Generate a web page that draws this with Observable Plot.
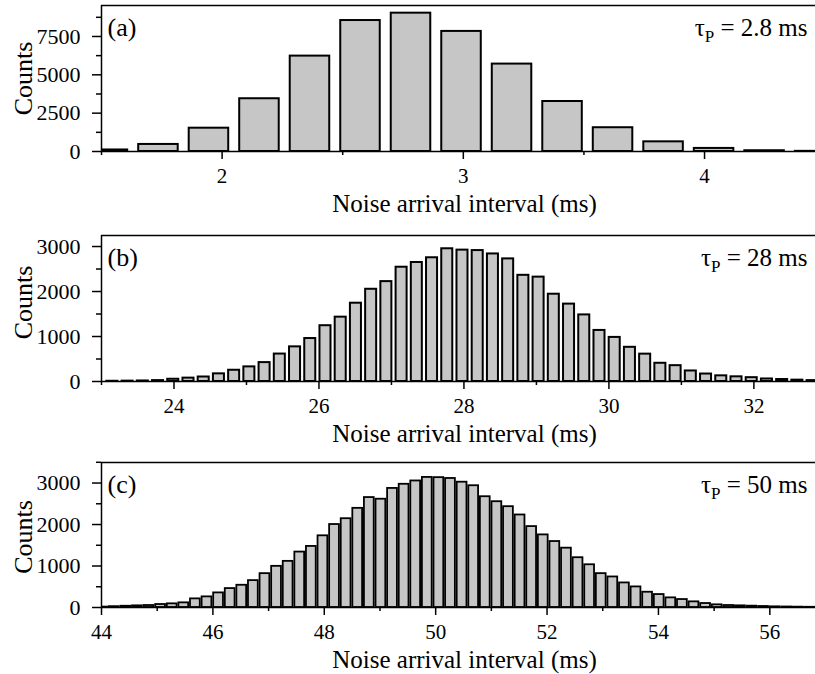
<!DOCTYPE html>
<html>
<head>
<meta charset="utf-8">
<script src="https://cdn.jsdelivr.net/npm/d3@7"></script>
<script src="https://cdn.jsdelivr.net/npm/@observablehq/plot@0.6"></script>
<style>
  html, body { margin: 0; padding: 0; background: #fff; }
  #chart { width: 815px; height: 674px; overflow: hidden; }
  #chart svg { display: block; }
  #chart svg text { font-family: 'Liberation Serif', 'Times New Roman', Times, serif; }
</style>
</head>
<body>
<div id="chart"></div>
<script>
// Histograms of noise arrival intervals for three pulse periods.

// (a) tau_P = 2.8 ms
const countsA = [100, 460, 1520, 3440, 6220, 8540, 9020, 7830, 5700, 3260, 1550, 630, 200, 50, 10];
const binStartA = 1.422;   // left edge of the first bin (ms)
const binWidthA = 0.2094;  // bin width (ms)
const xTicksA = [2, 3, 4];
const xMinorA = [1.5, 2.5, 3.5];
const yTicksA = [0, 2500, 5000, 7500];
const yMinorA = [1250, 3750, 6250, 8750];

// (b) tau_P = 28 ms
const countsB = [5, 8, 12, 20, 50, 75, 100, 170, 250, 325, 420, 610, 770, 955, 1240, 1430,
  1740, 2050, 2220, 2540, 2645, 2750, 2950, 2920, 2910, 2835, 2725, 2360, 2320, 1940, 1720,
  1480, 1135, 980, 760, 608, 405, 352, 234, 166, 126, 104, 85, 56, 44, 30, 20];
const binStartB = 23.045;
const binWidthB = 0.21;
const xTicksB = [24, 26, 28, 30, 32];
const xMinorB = [23, 25, 27, 29, 31];
const yTicksB = [0, 1000, 2000, 3000];
const yMinorB = [500, 1500, 2500];

// (c) tau_P = 50 ms
const countsC = [10, 20, 30, 40, 48, 72, 88, 112, 208, 256, 352, 456, 536, 648, 816, 992,
  1112, 1336, 1472, 1728, 2000, 2140, 2390, 2650, 2610, 2870, 2970, 3050, 3135, 3130, 3110,
  3020, 2935, 2670, 2550, 2430, 2230, 1950, 1750, 1590, 1430, 1200, 1030, 816, 736, 592,
  496, 368, 312, 232, 192, 136, 96, 64, 48, 40, 32, 24, 16, 12, 8, 5];
const binStartC = 43.916;
const binWidthC = 0.2082;
const xTicksC = [44, 46, 48, 50, 52, 54, 56];
const xMinorC = [45, 47, 49, 51, 53, 55];
const yTicksC = [0, 1000, 2000, 3000];
const yMinorC = [500, 1500, 2500, 3500];

const panelLabels = ["(a)", "(b)", "(c)"];
const tauLabels = ["τ|P| = 2.8 ms", "τ|P| = 28 ms", "τ|P| = 50 ms"];
const xTitle = "Noise arrival interval (ms)";
const yTitle = "Counts";

const SERIF = "'Liberation Serif', 'Times New Roman', Times, serif";
const INK = "#000";

function panel(cfg) {
  const rows = cfg.counts.map((c, i) => ({
    x1: cfg.start + i * cfg.width,
    x2: cfg.start + (i + 1) * cfg.width,
    count: c
  }));
  const [x0] = cfg.xDomain;
  const svg = Plot.plot({
    width: 815,
    height: cfg.height,
    marginLeft: 101,
    marginRight: 0,
    marginTop: cfg.marginTop,
    marginBottom: cfg.marginBottom,
    style: {fontFamily: SERIF, fontSize: "22px", color: INK, background: "#fff", overflow: "visible"},
    x: {domain: cfg.xDomain},
    y: {domain: [0, cfg.yMax]},
    marks: [
      Plot.rectY(rows, {
        x1: "x1", x2: "x2", y1: () => 0, y2: "count",
        fill: "#c6c6c6", stroke: INK, strokeWidth: cfg.strokeWidth,
        insetLeft: cfg.inset, insetRight: cfg.inset, clip: true
      }),
      Plot.ruleY([cfg.yMax], {stroke: INK, strokeWidth: 1.5}),
      Plot.ruleY([0], {stroke: INK, strokeWidth: 1.5}),
      Plot.ruleX([x0], {stroke: INK, strokeWidth: 1.5}),
      Plot.axisX({ticks: cfg.xTicks, tickSize: 8, tickPadding: 9, strokeWidth: 1.5,
        fontFamily: SERIF, fontSize: 21, tickFormat: d => String(d), label: null}),
      Plot.axisX({ticks: cfg.xMinor, tickSize: 4, strokeWidth: 1.5, tickFormat: () => "", label: null}),
      Plot.axisY({ticks: cfg.yTicks, tickSize: 9, tickPadding: 12, strokeWidth: 1.5,
        fontFamily: SERIF, fontSize: 22, tickFormat: d => String(d), label: null}),
      Plot.axisY({ticks: cfg.yMinor, tickSize: 5, strokeWidth: 1.5, tickFormat: () => "", label: null}),
      Plot.text([yTitle], {frameAnchor: "left", textAnchor: "middle", lineAnchor: "middle",
        rotate: -90, dx: -78, dy: cfg.countsDy, fontFamily: SERIF, fontSize: 26, fill: INK}),
      Plot.text([xTitle], {frameAnchor: "bottom", textAnchor: "middle", lineAnchor: "middle",
        dx: 6, dy: 52, fontFamily: SERIF, fontSize: 25, fill: INK}),
      Plot.text([cfg.label], {frameAnchor: "top-left", textAnchor: "start", lineAnchor: "middle",
        dx: 6, dy: 22, fontFamily: SERIF, fontSize: 26, fill: INK}),
      Plot.text([cfg.tau], {frameAnchor: "top-right", textAnchor: "end", lineAnchor: "middle",
        dx: -8, dy: 22, fontFamily: SERIF, fontSize: 25, fill: INK})
    ]
  });
  // subscript P in the tau label
  for (const t of svg.querySelectorAll("text")) {
    if (t.textContent.includes("|")) {
      const [a, b, c] = t.textContent.split("|");
      const ns = "http://www.w3.org/2000/svg";
      t.textContent = a;
      const sub = document.createElementNS(ns, "tspan");
      sub.setAttribute("font-size", "17");
      sub.setAttribute("dy", "6");
      sub.textContent = b;
      const rest = document.createElementNS(ns, "tspan");
      rest.setAttribute("dy", "-6");
      rest.textContent = c;
      t.append(sub, rest);
    }
  }
  return svg;
}

const chart = document.getElementById("chart");
chart.append(
  panel({counts: countsA, start: binStartA, width: binWidthA, xDomain: [1.5, 4.46], yMax: 9520,
    xTicks: xTicksA, xMinor: xMinorA, yTicks: yTicksA, yMinor: yMinorA,
    inset: 5.5, strokeWidth: 2, height: 222, marginTop: 5, marginBottom: 71, countsDy: 0,
    label: panelLabels[0], tau: tauLabels[0]}),
  panel({counts: countsB, start: binStartB, width: binWidthB, xDomain: [23, 32.85], yMax: 3245,
    xTicks: xTicksB, xMinor: xMinorB, yTicks: yTicksB, yMinor: yMinorB,
    inset: 2.1, strokeWidth: 2, height: 226, marginTop: 13, marginBottom: 67, countsDy: -6,
    label: panelLabels[1], tau: tauLabels[1]}),
  panel({counts: countsC, start: binStartC, width: binWidthC, xDomain: [44, 56.82], yMax: 3495,
    xTicks: xTicksC, xMinor: xMinorC, yTicks: yTicksC, yMinor: yMinorC,
    inset: 0.9, strokeWidth: 1.8, height: 226, marginTop: 14, marginBottom: 67, countsDy: 2,
    label: panelLabels[2], tau: tauLabels[2]})
);
</script>
</body>
</html>
